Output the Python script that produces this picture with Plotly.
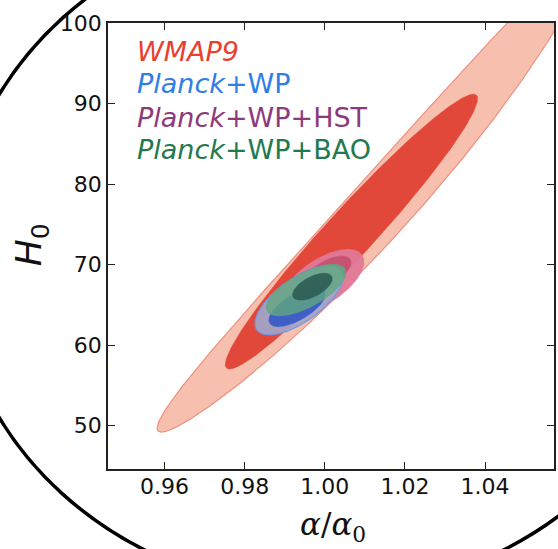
import numpy as np
import plotly.graph_objects as go

# ---------------- data ----------------
x_tick_vals = [0.96, 0.98, 1.00, 1.02, 1.04]
x_tick_text = ["0.96", "0.98", "1.00", "1.02", "1.04"]
y_tick_vals = [50, 60, 70, 80, 90, 100]
y_tick_text = ["50", "60", "70", "80", "90", "100"]

# confidence contours (outer = 95%, inner = 68%)
contour_names = ["WMAP9 95%", "WMAP9 68%",
                 "Planck+WP+HST 95%", "Planck+WP+HST 68%",
                 "Planck+WP 95%", "Planck+WP 68%",
                 "Planck+WP+BAO 95%", "Planck+WP+BAO 68%"]
center_alpha = [1.01457, 1.00665, 0.99950, 1.00056, 0.99360, 0.99310, 0.99534, 0.99691]
center_H0 = [77.52, 74.10, 67.95, 68.95, 65.59, 64.72, 66.84, 67.25]
axis_dalpha = [0.05339, 0.03118, 0.00980, 0.00581, 0.01058, 0.00688, 0.00974, 0.00483]
axis_dH0 = [29.45, 16.96, 3.20, 1.68, 3.70, 1.99, 2.59, 1.28]
width_ratio = [0.0960, 0.129, 0.465, 0.444, 0.423, 0.406, 0.383, 0.45]
bend = [0.0466, 0.0, 0.0, 0.0, 0.0, 0.0, 0.0, 0.0]

legend_labels = ["<i>WMAP9</i>", "<i>Planck</i>+WP", "<i>Planck</i>+WP+HST", "<i>Planck</i>+WP+BAO"]

# ---------------- styles ----------------
fill_colors = ["#f6bfae", "#e2483a",
               "rgba(226,120,150,0.95)", "rgba(196,82,112,0.95)",
               "rgba(160,166,202,0.92)", "rgba(58,92,198,0.95)",
               "rgba(96,166,128,0.80)", "rgba(40,88,80,0.85)"]
line_colors = ["#ef8f7e", "#e2483a",
               "#e07898", "#c45472",
               "#6f98e4", "#3f62c8",
               "#5fa585", "#2e5e56"]
line_widths = [1.2, 0.5, 0.8, 0.5, 1.2, 0.5, 0.8, 0.5]
legend_colors = ["#e8412f", "#2f7ee8", "#8c3a7c", "#1f7a50"]

ALPHA_UNIT = 0.01
H0_UNIT = 5.0

fig = go.Figure()
t = np.linspace(0, 2 * np.pi, 361)
for i in range(len(contour_names)):
    ax = axis_dalpha[i] / ALPHA_UNIT
    ay = axis_dH0[i] / H0_UNIT
    px_, py_ = -ay, ax  # perpendicular, same length
    u = np.cos(t)
    v = np.sin(t)
    X = u * ax + v * px_ * width_ratio[i] + bend[i] * u ** 2 * px_
    Y = u * ay + v * py_ * width_ratio[i] + bend[i] * u ** 2 * py_
    xs = center_alpha[i] + X * ALPHA_UNIT
    ys = center_H0[i] + Y * H0_UNIT
    fig.add_trace(go.Scatter(
        x=xs, y=ys, mode="lines", fill="toself",
        fillcolor=fill_colors[i],
        line=dict(color=line_colors[i], width=line_widths[i]),
        name=contour_names[i], hoverinfo="skip", showlegend=False))

L, R, T, B = 108, 2, 23, 80
W, H = 558, 549
pw, ph = W - L - R, H - T - B

def paper_x(px):
    return (px - L) / pw

def paper_y(py):
    return (H - B - py) / ph

axis_common = dict(
    showline=True, linecolor="#222222", linewidth=1.5, mirror="ticks",
    ticks="inside", ticklen=7, tickwidth=1.2, tickcolor="#222222",
    showgrid=False, zeroline=False,
    tickfont=dict(family="DejaVu Sans", size=22, color="#111111"),
)

fig.update_layout(
    width=W, height=H,
    margin=dict(l=L, r=R, t=T, b=B),
    paper_bgcolor="white", plot_bgcolor="white",
    showlegend=False,
    xaxis=dict(range=[0.9459, 1.0572], tickvals=x_tick_vals, ticktext=x_tick_text,
               ticklabelstandoff=-3, **axis_common),
    yaxis=dict(range=[44.6, 100.02], tickvals=y_tick_vals, ticktext=y_tick_text, **axis_common),
)

# legend as coloured text
legend_py = [52, 84, 118, 149]
for lab, col, py in zip(legend_labels, legend_colors, legend_py):
    fig.add_annotation(x=paper_x(135), y=paper_y(py), xref="paper", yref="paper",
                       text=lab, showarrow=False, xanchor="left", yanchor="middle",
                       font=dict(family="DejaVu Sans", size=27, color=col))

# axis titles
fig.add_annotation(x=paper_x(334), y=paper_y(526), xref="paper", yref="paper",
                   text="<i>α</i>/<i>α</i><sub>0</sub>", showarrow=False,
                   xanchor="center", yanchor="middle",
                   font=dict(family="DejaVu Serif", size=31, color="#111111"))
fig.add_annotation(x=paper_x(31), y=paper_y(245), xref="paper", yref="paper",
                   text="<i>H</i><sub>0</sub>", showarrow=False, textangle=-90,
                   xanchor="center", yanchor="middle",
                   font=dict(family="DejaVu Sans", size=36, color="#111111"))

# decorative black oval around the figure
cx, cy, rx, ry = 325, 256, 372, 336
fig.add_shape(type="circle", xref="paper", yref="paper",
              x0=paper_x(cx - rx), x1=paper_x(cx + rx),
              y0=paper_y(cy + ry), y1=paper_y(cy - ry),
              line=dict(color="black", width=3.5), layer="above")

fig.write_html("out.html")
